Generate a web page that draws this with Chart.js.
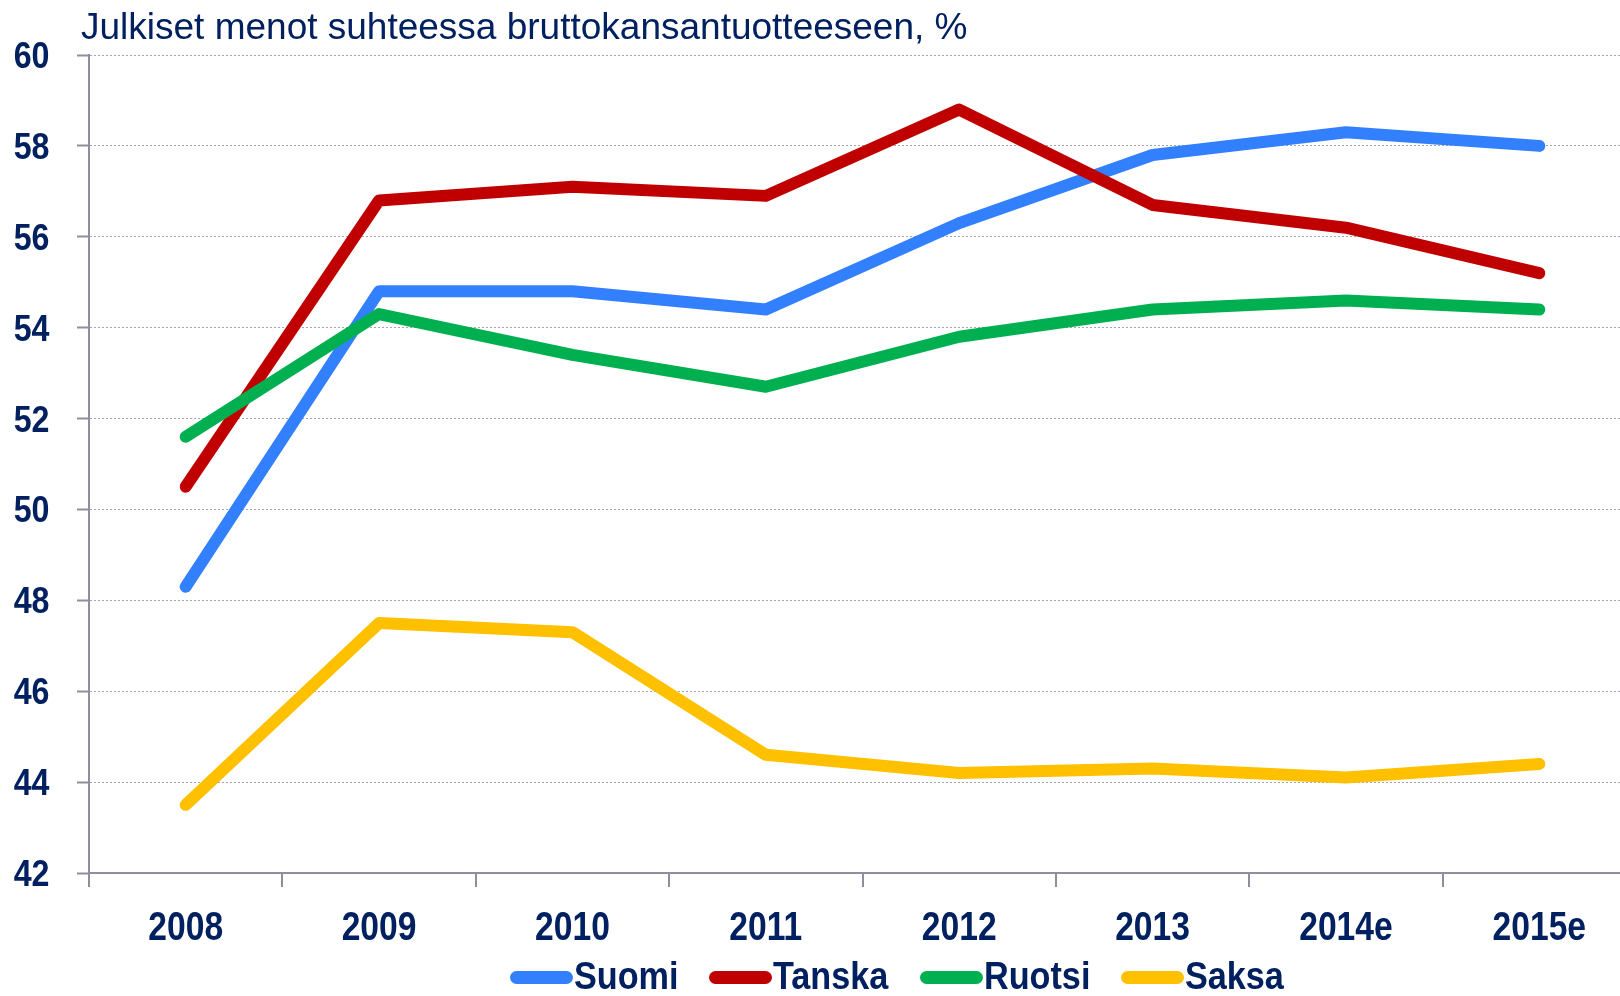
<!DOCTYPE html>
<html>
<head>
<meta charset="utf-8">
<script src="https://cdn.jsdelivr.net/npm/chart.js@4"></script>
<style>
html, body { margin:0; padding:0; background:#fff; overflow:hidden; }
#wrap { position:relative; width:1640px; height:996px; }
#title {
    position:absolute; left:81px; top:8px;
    font-family:"Liberation Sans", Arial, sans-serif;
    font-size:37px; line-height:37px; color:#002060; white-space:nowrap;
}
#legend {
    position:absolute; left:510px; top:957px;
    display:flex; gap:31px; align-items:flex-start;
    font-family:"Liberation Sans", Arial, sans-serif;
    font-weight:700; font-size:38px; line-height:38px; color:#002060;
}
.item { display:flex; align-items:flex-start; }
.swatch { width:63px; height:13px; border-radius:6.5px; margin-right:1px; margin-top:14px; flex:none; }
.txtbox { display:inline-block; white-space:nowrap; }
.txt { display:inline-block; transform:scaleX(0.9); transform-origin:0 0; white-space:nowrap; }
</style>
</head>
<body>
<div id="wrap">
    <canvas id="lineChart" width="1640" height="996"></canvas>
    <div id="title">Julkiset menot suhteessa bruttokansantuotteeseen, %</div>
    <div id="legend"></div>
</div>
<script>

const years = ["2008","2009","2010","2011","2012","2013","2014e","2015e"];

const suomi  = [48.3, 54.8, 54.8, 54.4, 56.3, 57.8, 58.3, 58.0];
const tanska = [50.5, 56.8, 57.1, 56.9, 58.8, 56.7, 56.2, 55.2];
const ruotsi = [51.6, 54.3, 53.4, 52.7, 53.8, 54.4, 54.6, 54.4];
const saksa  = [43.5, 47.5, 47.3, 44.6, 44.2, 44.3, 44.1, 44.4];

const seriesNames = ["Suomi","Tanska","Ruotsi","Saksa"];
const seriesData = [suomi, tanska, ruotsi, saksa];
const seriesColors = ["#3380FF","#C00000","#00B050","#FFC000"];

const yMin = 42;
const yMax = 60;
const yStep = 2;

const textColor = "#002060";
const axisColor = "#8E8E9E";
const gridColor = "#A4A4B0";
const boldFont = 'bold {size}px "Liberation Sans", Arial, sans-serif';

// the source uses a narrow bold face, so tick labels are drawn squeezed
function drawNarrow(ctx, text, x, y, size, squeeze, align){

    ctx.save();
    ctx.font = boldFont.replace("{size}", size);
    ctx.fillStyle = textColor;
    ctx.textBaseline = "alphabetic";
    ctx.textAlign = align;
    ctx.translate(x, y);
    ctx.scale(squeeze, 1);
    ctx.fillText(text, 0, 0);
    ctx.restore();

}

const tickLabels = {

    id:"tickLabels",

    afterDraw(chart){

        const ctx = chart.ctx;
        const xs = chart.scales.x;
        const ys = chart.scales.y;

        xs.ticks.forEach((t, i)=>{
            drawNarrow(ctx, xs.getLabelForValue(t.value), xs.getPixelForTick(i), 939.5, 41, 0.82, "center");
        });

        ys.ticks.forEach((t, i)=>{
            drawNarrow(ctx, String(t.value), 49.5, ys.getPixelForTick(i) + 13, 37, 0.87, "right");
        });

    }

};

const datasets = seriesNames.map((name, i)=>({
    label:name,
    data:seriesData[i],
    borderColor:seriesColors[i],
    backgroundColor:seriesColors[i],
    borderWidth:12,
    borderCapStyle:"round",
    borderJoinStyle:"round",
    pointRadius:0,
    tension:0,
    fill:false,
    order:seriesNames.length - 1 - i
}));

const lineChart = new Chart(document.getElementById("lineChart").getContext("2d"),{

    type:"line",

    data:{
        labels:years,
        datasets
    },

    options:{

        responsive:false,
        animation:false,

        layout:{
            padding:{ top:55, right:4, bottom:0, left:0 }
        },

        plugins:{
            legend:{ display:false },
            title:{ display:false },
            tooltip:{ enabled:false }
        },

        scales:{

            x:{
                offset:true,
                afterFit:scale=>{ scale.height = 123; },
                grid:{
                    offset:true,
                    drawOnChartArea:false,
                    drawTicks:true,
                    tickLength:14,
                    color:axisColor,
                    lineWidth:2
                },
                border:{ color:axisColor, width:2 },
                ticks:{ display:false }
            },

            y:{
                min:yMin,
                max:yMax,
                afterFit:scale=>{ scale.width = 89; },
                ticks:{ stepSize:yStep, display:false },
                grid:{
                    color:gridColor,
                    lineWidth:1,
                    tickColor:axisColor,
                    tickLength:12,
                    tickWidth:2
                },
                border:{ color:axisColor, width:2, dash:[2,2] }
            }

        }

    },

    plugins:[tickLabels]

});

// legend as plain html under the chart
const legendBox = document.getElementById("legend");

seriesNames.forEach((name, i)=>{

    const item = document.createElement("div");
    item.className = "item";

    const sw = document.createElement("span");
    sw.className = "swatch";
    sw.style.background = seriesColors[i];

    const box = document.createElement("span");
    box.className = "txtbox";

    const txt = document.createElement("span");
    txt.className = "txt";
    txt.textContent = name;

    box.appendChild(txt);
    item.appendChild(sw);
    item.appendChild(box);
    legendBox.appendChild(item);

    box.style.width = (txt.offsetWidth * 0.9) + "px";

});

</script>
</body>
</html>
